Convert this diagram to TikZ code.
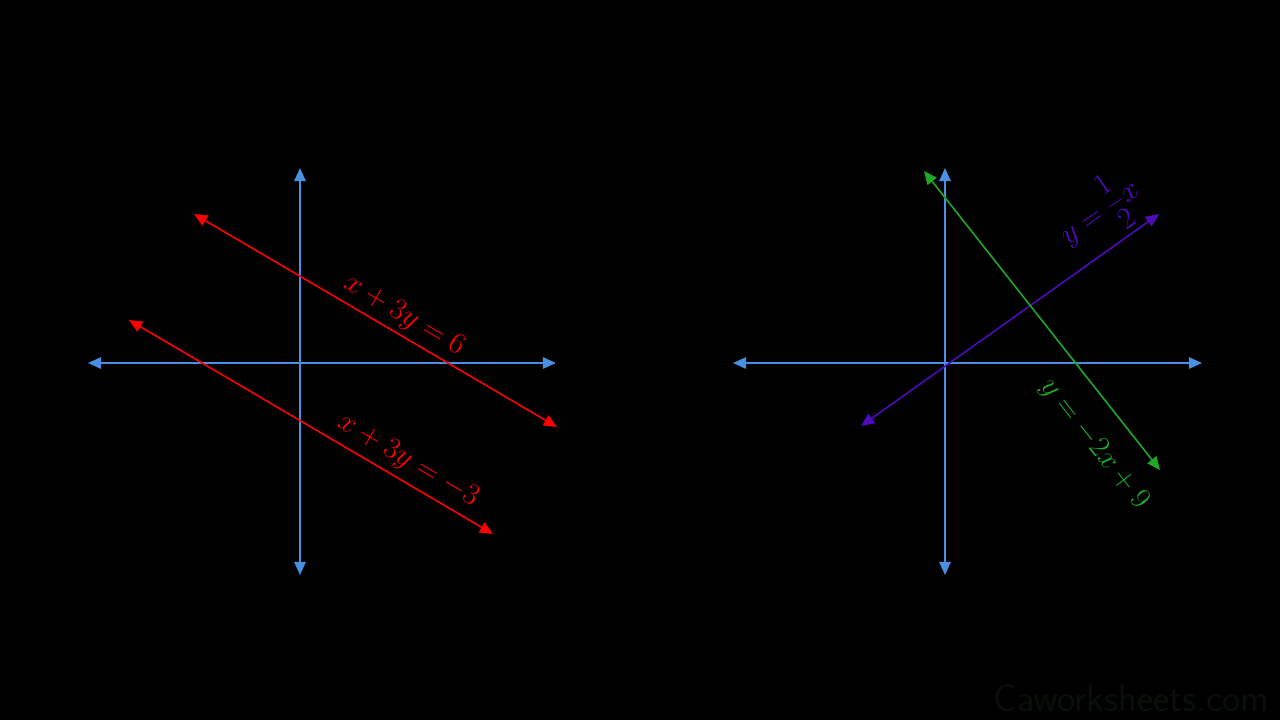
\documentclass[tikz,border=0pt]{standalone}
\usetikzlibrary{arrows.meta}
\definecolor{axisblue}{RGB}{74,144,226}
\definecolor{linered}{RGB}{255,0,0}
\definecolor{linepurple}{RGB}{80,10,190}
\definecolor{linegreen}{RGB}{30,170,40}
\definecolor{wmark}{RGB}{9,15,9}
\tikzset{
  axisline/.style={draw=axisblue, line width=1.1pt, {Triangle[length=7.5pt,width=6.5pt]}-{Triangle[length=7.5pt,width=6.5pt]}},
  graphline/.style={line width=0.9pt, {Triangle[length=7.5pt,width=6.5pt]}-{Triangle[length=7.5pt,width=6.5pt]}},
  eqlabel/.style={font=\fontsize{17}{20}\selectfont, inner sep=0pt}
}
\begin{document}
\begin{tikzpicture}[x=0.02cm,y=-0.02cm]
\fill[black] (0,0) rectangle (1280,720);
\useasboundingbox (0,0) rectangle (1280,720);
% left graph
\coordinate (LxL) at (88,363); \coordinate (LxR) at (556,363);
\coordinate (LyT) at (300,168); \coordinate (LyB) at (300,575);
\draw[axisline] (LxL) -- (LxR);
\draw[axisline] (LyT) -- (LyB);
\coordinate (R1a) at (194,214); \coordinate (R1b) at (557,427);
\coordinate (R2a) at (129,320); \coordinate (R2b) at (493,534);
\draw[graphline, draw=linered, fill=linered] (R1a) -- (R1b);
\draw[graphline, draw=linered, fill=linered] (R2a) -- (R2b);
\node[eqlabel, text=linered, rotate=-30.4] (L1) at (404,316) {$x+3y=6$};
\node[eqlabel, text=linered, rotate=-30.4] (L2) at (408,461) {$x+3y=-3$};
% right graph
\coordinate (RxL) at (733,363); \coordinate (RxR) at (1202,363);
\coordinate (RyT) at (945,168); \coordinate (RyB) at (945,575);
\draw[axisline] (RxL) -- (RxR);
\draw[axisline] (RyT) -- (RyB);
\coordinate (Pa) at (861,426); \coordinate (Pb) at (1159,214);
\coordinate (Ga) at (924,171); \coordinate (Gb) at (1160,470);
\draw[graphline, draw=linepurple, fill=linepurple] (Pa) -- (Pb);
\draw[graphline, draw=linegreen, fill=linegreen] (Ga) -- (Gb);
\node[eqlabel, text=linepurple, rotate=35.3] (L3) at (1099,212) {$y=\displaystyle\frac{1}{2}x$};
\node[eqlabel, text=linegreen, rotate=-51.8] (L4) at (1094,444) {$y=-2x+9$};
% watermark
\node[font=\sffamily\fontsize{22}{24}\selectfont, text=wmark, anchor=east, inner sep=0pt] (wm) at (1270,698) {Caworksheets.com};
\end{tikzpicture}
\end{document}
